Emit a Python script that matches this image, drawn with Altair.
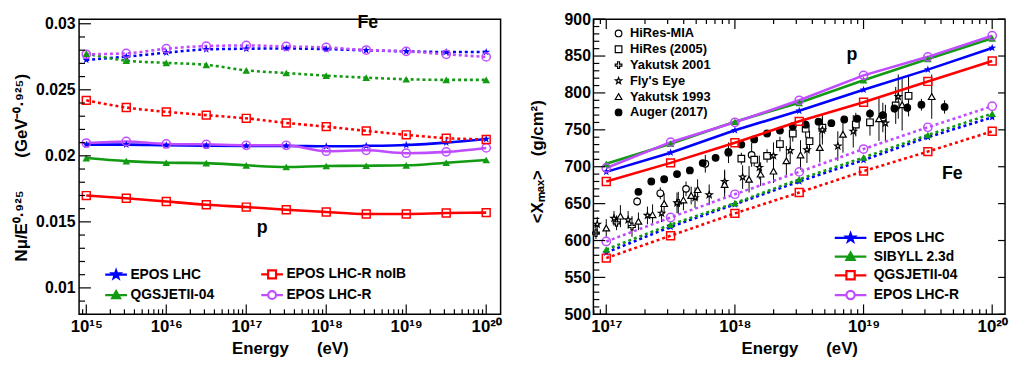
import altair as alt
import pandas as pd

FONT = "Liberation Sans"
BLUE, GREEN, RED, VIOLET = "#0000ff", "#139a13", "#ff0000", "#c04cff"
NB = "\u00a0"

# ---------------- left panel : N_mu / E^0.925 ----------------
logE_L = [15.0, 15.5, 16.0, 16.5, 17.0, 17.5, 18.0, 18.5, 19.0, 19.5, 20.0]
L_p_epos = [0.02085, 0.02085, 0.02080, 0.02077, 0.02075, 0.02075, 0.02072, 0.02075, 0.02082, 0.02100, 0.02127]
L_p_qgs = [0.01983, 0.01960, 0.01948, 0.01945, 0.01928, 0.01915, 0.01923, 0.01925, 0.01928, 0.01948, 0.01968]
L_p_noib = [0.01699, 0.01679, 0.01654, 0.01630, 0.01612, 0.01592, 0.01575, 0.01560, 0.01560, 0.01567, 0.01570]
L_p_eposr = [0.02097, 0.02109, 0.02090, 0.02087, 0.02080, 0.02080, 0.02035, 0.02042, 0.02020, 0.02030, 0.02060]
L_fe_epos = [0.02726, 0.02751, 0.02781, 0.02806, 0.02811, 0.02813, 0.02808, 0.02799, 0.02791, 0.02786, 0.02786]
L_fe_qgs = [0.02774, 0.02721, 0.02704, 0.02689, 0.02647, 0.02627, 0.02607, 0.02592, 0.02580, 0.02575, 0.02575]
L_fe_noib = [0.02420, 0.02366, 0.02333, 0.02308, 0.02284, 0.02249, 0.02221, 0.02189, 0.02159, 0.02134, 0.02124]
L_fe_eposr = [0.02769, 0.02776, 0.02811, 0.02831, 0.02836, 0.02828, 0.02821, 0.02801, 0.02791, 0.02769, 0.02749]
# legend order (filled column by column)
L_models = ["EPOS LHC", "QGSJETII-04", "EPOS LHC-R noIB", "EPOS LHC-R"]
L_text = ["Fe", "p"]
L_text_logE = [18.52, 17.20]
L_text_v = [0.03005, 0.01451]

# ---------------- right panel : <Xmax> ----------------
logE_R = [17.0, 17.5, 18.0, 18.5, 19.0, 19.5, 20.0]
R_p_epos = [693.0, 719.0, 749.4, 775.8, 804.3, 831.6, 861.0]
R_p_sib = [703.9, 731.2, 761.0, 786.6, 817.3, 845.9, 874.0]
R_p_qgs = [680.0, 705.2, 732.5, 761.5, 787.4, 815.6, 843.3]
R_p_eposr = [698.3, 733.3, 760.2, 790.0, 823.8, 848.9, 877.5]
R_fe_epos = [583.6, 618.6, 649.0, 680.0, 709.0, 740.0, 767.0]
R_fe_sib = [587.9, 621.6, 650.6, 683.0, 712.5, 743.0, 772.0]
R_fe_qgs = [576.2, 606.5, 636.8, 665.0, 694.0, 720.5, 748.0]
R_fe_eposr = [598.7, 631.2, 662.7, 693.0, 724.0, 753.5, 782.0]
R_models = ["EPOS LHC", "SIBYLL 2.3d", "QGSJETII-04", "EPOS LHC-R"]
R_text = ["p", "Fe"]
R_text_logE = [18.91, 19.69]
R_text_v = [851.0, 690.0]

# experimental data (log10 E, <Xmax>, error)
hm_logE = [17.24, 17.42, 17.62, 17.77, 17.95, 18.13]
hm_x = [653, 664, 670, 704, 719, 716]
hm_err = [6, 8, 10, 12, 14, 16]
hr_logE = [18.05, 18.15, 18.25, 18.35, 18.45, 18.55, 18.58, 18.68, 18.94, 19.05, 19.15, 19.25, 19.35]
hr_x = [711, 709.5, 714.7, 730.7, 745, 751.5, 734.6, 752.8, 757.1, 760.2, 766.7, 783.1, 796.1]
hr_err = [8, 9, 9, 10, 11, 12, 14, 14, 16, 18, 20, 25, 28]
y01_logE = [16.92, 17.08, 17.20, 17.56]
y01_x = [610, 624, 619, 651]
y01_err = [8, 10, 14, 15]
fe_logE = [16.93, 17.06, 17.17, 17.32, 17.43, 17.55, 17.69, 17.80, 17.92, 18.06, 18.19, 18.30, 18.43, 18.56, 18.68, 18.80, 18.92, 19.17, 19.27]
fe_x = [622, 630, 628, 634, 637, 651, 658, 662, 680, 686, 699, 715, 722, 723, 750, 728, 748, 759, 795]
fe_err = [10, 10, 12, 12, 12, 14, 14, 14, 16, 16, 16, 18, 18, 18, 20, 20, 22, 25, 30]
y93_logE = [17.00, 17.11, 17.25, 17.36, 17.45, 17.60, 17.66, 17.71, 17.92, 18.11, 18.20, 18.30, 18.40, 18.51, 18.66, 18.84, 19.12, 19.30, 19.53]
y93_x = [617, 633, 626, 635, 650, 655, 661, 669, 676, 683, 690, 694, 708, 716, 726, 744, 765, 784, 795]
y93_err = [12, 15, 12, 14, 14, 14, 12, 14, 18, 18, 16, 16, 20, 20, 20, 25, 30, 35, 30]
au_logE = [17.25, 17.35, 17.45, 17.55, 17.65, 17.75, 17.85, 17.95, 18.05, 18.15, 18.25, 18.35, 18.45, 18.55, 18.65, 18.75, 18.85, 18.95, 19.05, 19.15, 19.24, 19.34, 19.45, 19.63]
au_x = [666, 680, 683, 690, 695, 705, 712, 720, 730, 737, 745, 749, 755, 757, 761, 759, 764, 765, 772, 770, 779, 780, 784, 781]
au_err = [3, 3, 3, 3, 3, 3, 3, 3, 3, 3, 3, 3, 3, 3, 3, 3, 4, 4, 5, 5, 6, 6, 8, 9]
exp_names = ["HiRes-MIA", "HiRes (2005)", "Yakutsk 2001", "Fly's Eye", "Yakutsk 1993", "Auger (2017)"]

# axis tick positions
L_xmaj = [15, 16, 17, 18, 19, 20]
L_ymaj = [0.01, 0.015, 0.02, 0.025, 0.03]
L_ymin = [0.008, 0.009, 0.011, 0.012, 0.013, 0.014, 0.016, 0.017, 0.018, 0.019,
          0.021, 0.022, 0.023, 0.024, 0.026, 0.027, 0.028, 0.029]
R_xmaj = [17, 18, 19, 20]
R_ymaj = [500, 550, 600, 650, 700, 750, 800, 850, 900]
R_ymin = [v for v in range(510, 900, 10) if v % 50]

# ---------------- helpers ----------------
STAR = [(0, -1), (0.235, -0.324), (0.951, -0.309), (0.38, 0.124), (0.588, 0.809),
        (0, 0.4), (-0.588, 0.809), (-0.38, 0.124), (-0.951, -0.309), (-0.235, -0.324)]


def star_path(s=1.0):
    pts = ["%s%.3f,%.3f" % ("M" if i == 0 else "L", x * s, y * s) for i, (x, y) in enumerate(STAR)]
    return "".join(pts) + "Z"


STAR_PATH = star_path(1.0)
OPEN_CROSS = "M-0.3,-1H0.3V-0.3H1V0.3H0.3V1H-0.3V0.3H-1V-0.3H-0.3Z"


def legend_path(kind, L, m):
    # L, m in symbol units (1 unit = sqrt(symbolSize)/2 px)
    if kind == "star":
        return "M%.3f,0H%.3f" % (-L, L) + star_path(m * 1.05)
    if kind == "tri":
        return "M%.3f,0H%.3f" % (-L, L) + "M0,%.3fL%.3f,%.3fL%.3f,%.3fZ" % (-m, m, m * 0.8, -m, m * 0.8)
    line = "M%.3f,0H%.3fM%.3f,0H%.3f" % (-L, -m, m, L)
    if kind == "square":
        return line + "M%.3f,%.3fH%.3fV%.3fH%.3fZ" % (-m, -m, m, m, -m)
    return line + "M%.3f,0A%.3f,%.3f,0,1,1,%.3f,0A%.3f,%.3f,0,1,1,%.3f,0Z" % (m, m, m, -m, m, m, m)


def sup(n):
    return str(n).translate(str.maketrans("0123456789-", "⁰¹²³⁴⁵⁶⁷⁸⁹⁻"))


def decade_expr(decs):
    expr = "''"
    for n in decs:
        expr = "abs(log(datum.value)/LN10 - %d) < 0.01 ? '10%s' : (%s)" % (n, sup(n), expr)
    return expr


def minor_decades(lo, hi):
    out = []
    for n in range(int(lo) - 1, int(hi) + 1):
        for k in range(2, 10):
            v = k * 10.0 ** n
            if 10 ** lo < v < 10 ** hi:
                out.append(v)
    return out


MARK = {
    "star": dict(shape=STAR_PATH, filled=True, size=70),
    "tri": dict(shape="triangle-up", filled=True, size=60),
    "square": dict(shape="square", filled=False, size=64, strokeWidth=1.5),
    "circle": dict(shape="circle", filled=False, size=70, strokeWidth=1.5),
}


def panel(W, H, xs, ys, xax, yax, series, models, leg_kinds, leg_colors, legend, text,
          xmaj, xmin, ymaj, ymin, interp, right_ticks=False, top_ticks=False, extra=None):
    X = lambda f="E": alt.X(f + ":Q", scale=xs, axis=xax)
    Y = lambda f="v": alt.Y(f + ":Q", scale=ys, axis=yax)
    layers = []
    if extra is not None:
        layers += extra(X, Y)
    for vals, logs, color, kind, dashed in series:
        df = pd.DataFrame({"E": [10 ** l for l in logs], "v": vals})
        lk = dict(color=color, strokeWidth=2.6, interpolate=interp)
        if dashed:
            lk.update(strokeDash=[3, 3])
        layers.append(alt.Chart(df).mark_line(**lk).encode(x=X(), y=Y()))
    for vals, logs, color, kind, dashed in series:
        df = pd.DataFrame({"E": [10 ** l for l in logs], "v": vals})
        layers.append(alt.Chart(df).mark_point(color=color, opacity=1, **MARK[kind]).encode(x=X(), y=Y()))
    # ticks (ROOT style, pointing inwards)
    tk = dict(color="black", strokeWidth=1.2)
    layers.append(alt.Chart(pd.DataFrame({"v": ymaj})).mark_rule(**tk).encode(y=Y(), x=alt.value(0), x2=alt.value(12)))
    layers.append(alt.Chart(pd.DataFrame({"v": ymin})).mark_rule(**tk).encode(y=Y(), x=alt.value(0), x2=alt.value(6)))
    xm = pd.DataFrame({"E": [10.0 ** n for n in xmaj]})
    xn = pd.DataFrame({"E": xmin})
    layers.append(alt.Chart(xm).mark_rule(**tk).encode(x=X(), y=alt.value(H - 10), y2=alt.value(H)))
    layers.append(alt.Chart(xn).mark_rule(**tk).encode(x=X(), y=alt.value(H - 5), y2=alt.value(H)))
    if right_ticks:
        layers.append(alt.Chart(pd.DataFrame({"v": ymaj})).mark_rule(**tk).encode(y=Y(), x=alt.value(W - 7), x2=alt.value(W)))
    if top_ticks:
        layers.append(alt.Chart(xm).mark_rule(**tk).encode(x=X(), y=alt.value(0), y2=alt.value(10)))
        layers.append(alt.Chart(xn).mark_rule(**tk).encode(x=X(), y=alt.value(0), y2=alt.value(5)))
    # annotations
    tdf = pd.DataFrame({"E": [10 ** l for l in text[1]], "v": text[2], "t": text[0]})
    layers.append(alt.Chart(tdf).mark_text(font=FONT, fontSize=18, fontWeight="bold", color="black").encode(
        x=X(), y=Y(), text="t:N"))
    # legend for the models (line + marker symbols)
    u = legend["size"] ** 0.5 / 2.0
    ldf = pd.DataFrame({"model": models})
    paths, fills = [], []
    for k, c in zip(leg_kinds, leg_colors):
        paths.append(legend_path(k, legend["L"] / u, legend["m"] / u))
        fills.append(c if k in ("star", "tri") else "transparent")
    lg = alt.Legend(title=None, orient="none", legendX=legend["x"], legendY=legend["y"],
                    columns=legend["cols"], columnPadding=legend["colpad"], rowPadding=legend["rowpad"],
                    symbolSize=legend["size"], symbolStrokeWidth=2.2, labelFont=FONT,
                    labelFontSize=14, labelFontWeight="bold", labelColor="black",
                    labelOffset=legend["loff"], labelLimit=0, padding=0)
    layers.append(alt.Chart(ldf).mark_point(clip=True, opacity=1).encode(
        x=alt.value(-2000), y=alt.value(-2000),
        shape=alt.Shape("model:N", scale=alt.Scale(domain=models, range=paths), legend=lg),
        stroke=alt.Stroke("model:N", scale=alt.Scale(domain=models, range=leg_colors), legend=lg),
        fill=alt.Fill("model:N", scale=alt.Scale(domain=models, range=fills), legend=lg),
    ))
    return alt.layer(*layers).properties(width=W, height=H).resolve_scale(
        shape="independent", fill="independent", stroke="independent")


WL, WR, H = 427, 417, 299

# ---------------- left panel ----------------
xsL = alt.Scale(type="log", domain=[10 ** 14.91, 10 ** 20.18], nice=False)
ysL = alt.Scale(domain=[0.008, 0.03035], nice=False, zero=False)
xaxL = alt.Axis(values=[10.0 ** n for n in L_xmaj], labelExpr=decade_expr(L_xmaj), labelOverlap=False,
                labelFlush=False, title="Energy" + NB * 6 + "(eV)", titleY=35, titleBaseline="middle",
                labelPadding=4, labelFontSize=17)
yaxL = alt.Axis(values=L_ymaj, format="~g", labelOverlap=False, labelFlush=False,
                title="Nμ/E⁰·⁹²⁵" + NB * 7 + "(GeV⁻⁰·⁹²⁵)", titleX=-58, titleY=150, titleAngle=270,
                titleBaseline="middle", titleAlign="center", labelPadding=4)
seriesL = [
    (L_p_epos, logE_L, BLUE, "star", False),
    (L_p_qgs, logE_L, GREEN, "tri", False),
    (L_p_noib, logE_L, RED, "square", False),
    (L_p_eposr, logE_L, VIOLET, "circle", False),
    (L_fe_epos, logE_L, BLUE, "star", True),
    (L_fe_qgs, logE_L, GREEN, "tri", True),
    (L_fe_noib, logE_L, RED, "square", True),
    (L_fe_eposr, logE_L, VIOLET, "circle", True),
]
left = panel(WL, H, xsL, ysL, xaxL, yaxL, seriesL, L_models,
             ["star", "tri", "square", "circle"], [BLUE, GREEN, RED, VIOLET],
             dict(L=11, m=4, x=27, y=248, cols=2, colpad=43, rowpad=2, size=324, loff=4),
             (L_text, L_text_logE, L_text_v),
             L_xmaj, minor_decades(14.91, 20.18), L_ymaj, L_ymin, "monotone")

# ---------------- right panel ----------------
xsR = alt.Scale(type="log", domain=[10 ** 16.9, 10 ** 20.1], nice=False)
ysR = alt.Scale(domain=[500, 900], nice=False, zero=False)
xaxR = alt.Axis(values=[10.0 ** n for n in R_xmaj], labelExpr=decade_expr(R_xmaj), labelOverlap=False,
                labelFlush=False, title="Energy" + NB * 6 + "(eV)", titleY=35, titleBaseline="middle",
                labelPadding=4, labelFontSize=17)
yaxR = alt.Axis(values=R_ymaj, format="d", labelOverlap=False, labelFlush=False,
                title="<Xₘₐₓ>" + NB * 3 + "(g/cm²)", titleX=-57, titleY=144, titleAngle=270,
                titleBaseline="middle", titleAlign="center", labelPadding=3)
seriesR = [
    (R_p_epos, logE_R, BLUE, "star", False),
    (R_p_sib, logE_R, GREEN, "tri", False),
    (R_p_qgs, logE_R, RED, "square", False),
    (R_p_eposr, logE_R, VIOLET, "circle", False),
    (R_fe_epos, logE_R, BLUE, "star", True),
    (R_fe_sib, logE_R, GREEN, "tri", True),
    (R_fe_qgs, logE_R, RED, "square", True),
    (R_fe_eposr, logE_R, VIOLET, "circle", True),
]

exp_sets = [(hm_logE, hm_x, hm_err), (hr_logE, hr_x, hr_err), (y01_logE, y01_x, y01_err),
            (fe_logE, fe_x, fe_err), (y93_logE, y93_x, y93_err), (au_logE, au_x, au_err)]
rows = []
for name, (lg_, xv, er) in zip(exp_names, exp_sets):
    for a, b, c in zip(lg_, xv, er):
        rows.append({"E": 10 ** a, "v": b, "lo": b - c, "hi": b + c, "exp": name})
exp_df = pd.DataFrame(rows)


def exp_layers(X, Y):
    exp_leg = alt.Legend(title=None, orient="none", legendX=19, legendY=8, rowPadding=2,
                         symbolSize=45, symbolStrokeWidth=1.2, labelFont=FONT, labelFontSize=13,
                         labelFontWeight="bold", labelColor="black", labelOffset=5, labelLimit=0, padding=0)
    err = alt.Chart(exp_df).mark_rule(color="black", strokeWidth=1).encode(
        x=X(), y=Y("lo"), y2="hi:Q")
    pts = alt.Chart(exp_df).mark_point(strokeWidth=1.2, size=45, opacity=1).encode(
        x=X(), y=Y(),
        shape=alt.Shape("exp:N", scale=alt.Scale(domain=exp_names,
                        range=["circle", "square", OPEN_CROSS, STAR_PATH, "triangle-up", "circle"]), legend=exp_leg),
        stroke=alt.Stroke("exp:N", scale=alt.Scale(domain=exp_names, range=["black"] * 6), legend=exp_leg),
        fill=alt.Fill("exp:N", scale=alt.Scale(domain=exp_names,
                      range=["white", "white", "white", "white", "white", "black"]), legend=exp_leg),
    )
    return [err, pts]


right = panel(WR, H, xsR, ysR, xaxR, yaxR, seriesR, R_models,
              ["star", "tri", "square", "circle"], [BLUE, GREEN, RED, VIOLET],
              dict(L=16, m=4.2, x=251, y=212, cols=1, colpad=0, rowpad=1, size=256, loff=14),
              (R_text, R_text_logE, R_text_v),
              R_xmaj, minor_decades(16.9, 20.1), R_ymaj, R_ymin, "linear",
              right_ticks=True, top_ticks=True, extra=exp_layers)

chart = alt.hconcat(left, right, spacing=94, bounds="flush").resolve_scale(
    shape="independent", fill="independent", stroke="independent"
).properties(
    padding={"left": 4, "top": 0, "right": 0, "bottom": 0}
).configure(font=FONT).configure_view(
    stroke="black", strokeWidth=1.5
).configure_axis(
    labelFont=FONT, labelFontSize=16, labelFontWeight="bold", labelColor="black",
    titleFont=FONT, titleFontSize=17, titleFontWeight="bold", titleColor="black",
    grid=False, domain=False, ticks=False, tickSize=0
)

chart.save("out.html", embed_options={"renderer": "svg", "actions": False})
